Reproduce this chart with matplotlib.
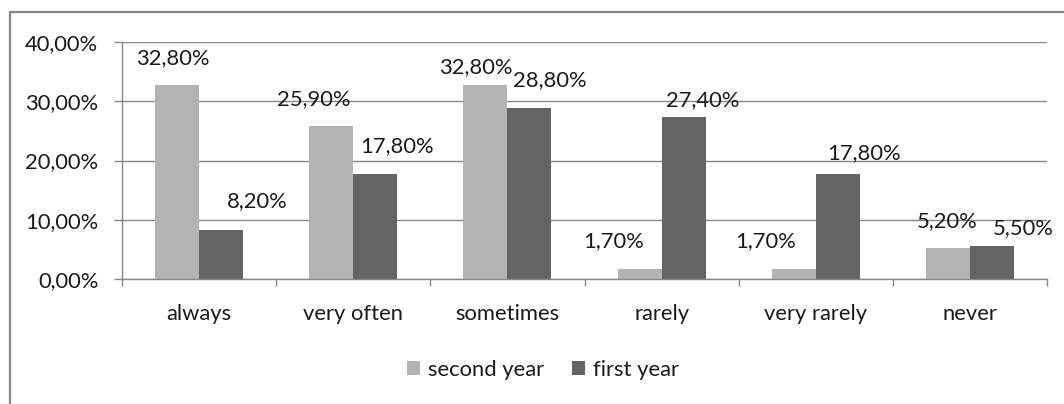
import matplotlib
matplotlib.use("Agg")
import matplotlib.pyplot as plt
from matplotlib.patches import Rectangle
from matplotlib.ticker import FuncFormatter, FixedLocator
import numpy as np

# Data
categories = ["always", "very often", "sometimes", "rarely", "very rarely", "never"]
second_year = [32.8, 25.9, 32.8, 1.7, 1.7, 5.2]
first_year = [8.2, 17.8, 28.8, 27.4, 17.8, 5.5]
series_names = ["second year", "first year"]
y_ticks = [0, 10, 20, 30, 40]

# Label placement tweaks (pixel offsets from the top-centre of each bar)
second_offsets = [(-4, 21), (-18, 20), (-10, 12), (-26, 22), (-28, 22), (-1, 21)]
first_offsets = [(36, 23), (22, 21), (20, 22), (19, 11), (26, 14), (31, 12)]

W, H = 1064, 404
plt.rcParams["font.family"] = ["Lato", "DejaVu Sans"]
FS = 15.8
GRID = "#878787"
LIGHT = "#B3B3B3"
DARK = "#646464"
TXT = "#1a1a1a"

fig = plt.figure(figsize=(W / 100, H / 100), dpi=100)
fig.patch.set_facecolor("white")

# outer chart frame (runs off the right and bottom edges)
fig.patches.append(Rectangle((10 / W, -0.2), 1.3, (H - 12) / H + 0.2,
                             transform=fig.transFigure, fill=False,
                             edgecolor=GRID, linewidth=1.6, zorder=0))

ax = fig.add_axes([122 / W, (H - 279) / H, (1047 - 122) / W, (279 - 42) / H])

x = np.arange(len(categories))
bw = 0.285
b1 = ax.bar(x - bw / 2, second_year, width=bw, color=LIGHT, zorder=3,
            label=series_names[0])
b2 = ax.bar(x + bw / 2, first_year, width=bw, color=DARK, zorder=3,
            label=series_names[1])


def fmt(v):
    return f"{v:.2f}".replace(".", ",") + "%"


for bars, vals, offs in ((b1, second_year, second_offsets),
                         (b2, first_year, first_offsets)):
    for rect, v, (dx, dy) in zip(bars, vals, offs):
        ax.annotate(fmt(v), (rect.get_x() + rect.get_width() / 2, v),
                    xytext=(dx, dy), textcoords="offset pixels",
                    ha="center", va="baseline", fontsize=FS, color=TXT,
                    zorder=5)

ax.set_xlim(-0.5, len(categories) - 0.5)
ax.set_ylim(0, 40)

# y axis
ax.yaxis.set_major_locator(FixedLocator(y_ticks))
ax.yaxis.set_major_formatter(FuncFormatter(lambda v, p: fmt(v)))
ax.grid(axis="y", color=GRID, linewidth=1.0, zorder=0)
ax.tick_params(axis="y", length=6, width=1, color=GRID, pad=11,
               labelsize=FS, labelcolor=TXT)

# x axis: tick marks at category boundaries, labels at centres
ax.xaxis.set_major_locator(FixedLocator(np.arange(len(categories) + 1) - 0.5))
ax.xaxis.set_major_formatter(FuncFormatter(lambda v, p: ""))
ax.xaxis.set_minor_locator(FixedLocator(x))
ax.set_xticklabels(categories, minor=True)
ax.tick_params(axis="x", which="major", length=5, width=1, color=GRID,
               direction="out")
ax.tick_params(axis="x", which="minor", length=0, pad=18,
               labelsize=FS, labelcolor=TXT)

for s in ("top", "right"):
    ax.spines[s].set_visible(False)
for s in ("left", "bottom"):
    ax.spines[s].set_color(GRID)
    ax.spines[s].set_linewidth(1.0)
    ax.spines[s].set_zorder(4)

fig.legend(handles=[b1, b2], labels=series_names, loc="center",
           bbox_to_anchor=(543 / W, 1 - 370 / H), ncol=2, frameon=False,
           fontsize=FS, handlelength=0.6, handleheight=0.6,
           handletextpad=0.35, columnspacing=1.3, labelcolor=TXT)

fig.savefig("out.png", dpi=100, facecolor="white")
